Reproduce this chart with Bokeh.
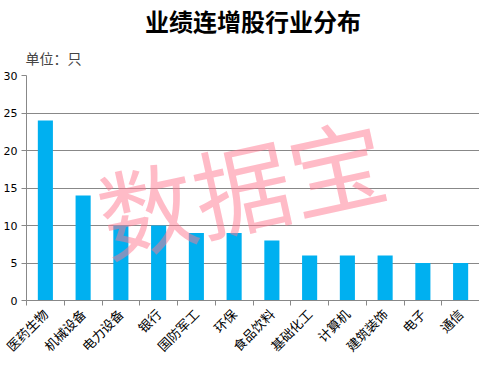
import numpy as np
from bokeh.plotting import figure
from bokeh.models import FixedTicker, Range1d, Title, Label
from bokeh.embed import file_html
from bokeh.resources import INLINE

categories = ["医药生物", "机械设备", "电力设备", "银行", "国防军工", "环保",
              "食品饮料", "基础化工", "计算机", "建筑装饰", "电子", "通信"]
counts = [24, 14, 10, 10, 9, 9, 8, 6, 6, 6, 5, 5]
y_ticks = [0, 5, 10, 15, 20, 25, 30]
title_text = "业绩连增股行业分布"
unit_text = "单位：只"

n = len(categories)
centers = list(np.arange(n) + 0.5)
bounds = list(range(n + 1))

p = figure(frame_width=453, frame_height=225, output_backend="svg", toolbar_location=None,
           x_range=Range1d(0, n), y_range=Range1d(0, 30),
           min_border_left=22, min_border_right=0, min_border_bottom=10, min_border_top=0)
p.outline_line_color = None

p.vbar(x=centers, top=counts, width=0.4, color="#00B0F0", line_color=None)

# titles
p.title.text = title_text
p.title.align = "center"
p.title.offset = -18
p.title.text_font = "Noto Sans CJK SC"
p.title.text_font_size = "24px"
p.title.text_font_style = "bold"
p.title.text_color = "#000000"
p.title.standoff = 0
p.add_layout(Title(text=unit_text, align="left", text_font="Noto Sans CJK SC",
                   text_font_size="14px", text_font_style="normal", offset=-1,
                   standoff=16), "above")

# x axis
p.xaxis.ticker = FixedTicker(ticks=centers, minor_ticks=bounds)
p.xaxis.major_label_overrides = {c: lab for c, lab in zip(centers, categories)}
p.xaxis.major_tick_out = 0
p.xaxis.major_tick_in = 0
p.xaxis.minor_tick_out = 5
p.xaxis.minor_tick_in = 0
p.xaxis.minor_tick_line_color = "#888888"
p.xaxis.axis_line_color = "#888888"
p.xaxis.major_label_orientation = np.pi / 4
p.xaxis.major_label_text_font = "Noto Sans CJK SC"
p.xaxis.major_label_text_font_size = "13px"
p.xaxis.major_label_text_color = "#000000"
p.xaxis.major_label_standoff = 6

# y axis
p.yaxis.ticker = FixedTicker(ticks=y_ticks)
p.yaxis.minor_tick_line_color = None
p.yaxis.major_tick_out = 5
p.yaxis.major_tick_in = 0
p.yaxis.major_tick_line_color = "#888888"
p.yaxis.axis_line_color = "#888888"
p.yaxis.major_label_text_font = "DejaVu Sans"
p.yaxis.major_label_text_font_size = "11px"
p.yaxis.major_label_text_color = "#000000"
p.yaxis.major_label_standoff = 4

p.xgrid.grid_line_color = None
p.ygrid.ticker = FixedTicker(ticks=y_ticks[1:])
p.ygrid.grid_line_color = "#888888"
p.ygrid.grid_line_width = 1

# watermark
p.add_layout(Label(x=5.68, y=15.5, text="数据宝", angle=0.216,
                   text_align="center", text_baseline="middle",
                   text_font="Noto Sans CJK SC", text_font_size="97px",
                   text_color="#ff7890", text_alpha=0.5))

open("out.html", "w").write(file_html(p, INLINE))
